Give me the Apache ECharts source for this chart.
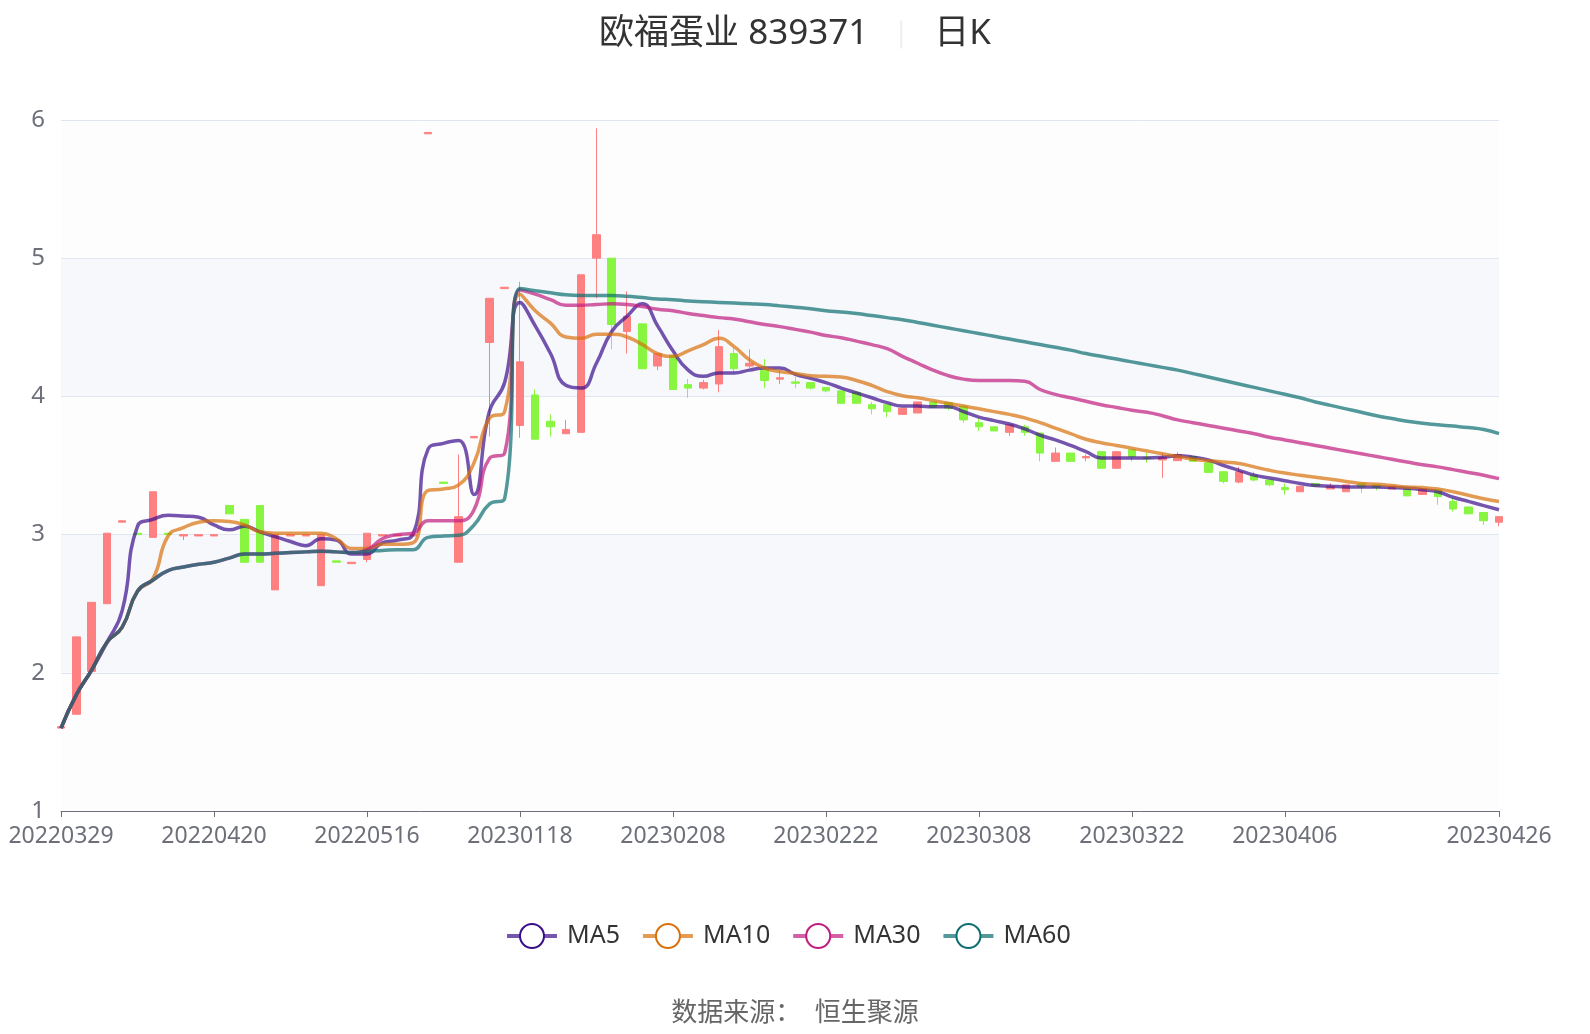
<!DOCTYPE html>
<html>
<head>
<meta charset="utf-8">
<script src="https://cdn.jsdelivr.net/npm/echarts@6/dist/echarts.min.js"></script>
<style>
  html, body { margin: 0; padding: 0; background: #fff; }
  #kline { width: 1590px; height: 1034px; }
</style>
</head>
<body>
<div id="kline"></div>
<script>
// 日期
var dates = [
  '20220329', '20220330', '20220331', '20220401', '20220406', '20220408', '20220411', '20220413', '20220415', '20220418',
  '20220420', '20220421', '20220422', '20220425', '20220427', '20220429', '20220505', '20220506', '20220510', '20220512',
  '20220516', '20220518', '20220520', '20220525', '20220531', '20220608', '20220617', '20220705', '20230116', '20230117',
  '20230118', '20230119', '20230120', '20230130', '20230131', '20230201', '20230202', '20230203', '20230206', '20230207',
  '20230208', '20230209', '20230210', '20230213', '20230214', '20230215', '20230216', '20230217', '20230220', '20230221',
  '20230222', '20230223', '20230224', '20230227', '20230228', '20230301', '20230302', '20230303', '20230306', '20230307',
  '20230308', '20230309', '20230310', '20230313', '20230314', '20230315', '20230316', '20230317', '20230320', '20230321',
  '20230322', '20230323', '20230324', '20230327', '20230328', '20230329', '20230330', '20230331', '20230403', '20230404',
  '20230406', '20230407', '20230410', '20230411', '20230412', '20230413', '20230414', '20230417', '20230418', '20230419',
  '20230420', '20230421', '20230424', '20230425', '20230426'
];
// 开盘 收盘 最低 最高
var opens = [
  1.60, 1.70, 2.01, 2.50, 3.09, 3.01, 2.98, 3.01, 2.99, 2.99,
  2.99, 3.21, 3.11, 3.21, 2.60, 2.99, 2.99, 2.63, 2.81, 2.79,
  2.82, 2.99, 2.99, 2.99, 5.90, 3.38, 2.80, 3.70, 4.39, 4.78,
  3.79, 4.01, 3.82, 3.73, 3.74, 5.00, 5.00, 4.47, 4.525, 4.22,
  4.295, 4.085, 4.06, 4.09, 4.31, 4.22, 4.19, 4.125, 4.105, 4.10,
  4.065, 4.04, 4.03, 3.94, 3.94, 3.87, 3.88, 3.96, 3.955, 3.93,
  3.81, 3.78, 3.74, 3.78, 3.735, 3.53, 3.59, 3.555, 3.60, 3.48,
  3.615, 3.56, 3.54, 3.535, 3.565, 3.52, 3.455, 3.38, 3.43, 3.395,
  3.34, 3.31, 3.37, 3.33, 3.31, 3.37, 3.36, 3.33, 3.33, 3.29,
  3.325, 3.24, 3.20, 3.16, 3.09
];
var closes = [
  1.61, 2.26, 2.51, 3.01, 3.10, 3.00, 3.31, 3.00, 3.00, 3.00,
  3.00, 3.15, 2.80, 2.80, 3.00, 3.00, 3.00, 3.00, 2.80, 2.80,
  3.01, 3.00, 3.00, 3.00, 5.91, 3.37, 3.13, 3.71, 4.71, 4.79,
  4.25, 3.69, 3.78, 3.76, 4.88, 5.17, 4.52, 4.58, 4.20, 4.31,
  4.05, 4.06, 4.10, 4.36, 4.20, 4.24, 4.115, 4.135, 4.095, 4.06,
  4.04, 3.95, 3.95, 3.91, 3.89, 3.915, 3.96, 3.92, 3.915, 3.83,
  3.78, 3.75, 3.795, 3.74, 3.59, 3.59, 3.53, 3.565, 3.48, 3.60,
  3.565, 3.55, 3.56, 3.58, 3.53, 3.45, 3.385, 3.455, 3.395, 3.36,
  3.325, 3.35, 3.35, 3.35, 3.36, 3.345, 3.34, 3.35, 3.28, 3.33,
  3.275, 3.185, 3.15, 3.10, 3.13
];
var lows = [
  1.60, 1.70, 2.01, 2.50, 3.09, 3.00, 2.98, 3.00, 2.96, 2.99,
  2.99, 3.15, 2.80, 2.80, 2.60, 2.99, 2.99, 2.63, 2.80, 2.79,
  2.80, 2.99, 2.99, 2.99, 5.90, 3.37, 2.80, 3.70, 3.71, 4.78,
  3.70, 3.69, 3.71, 3.73, 3.74, 4.71, 4.34, 4.31, 4.20, 4.19,
  4.05, 3.99, 4.05, 4.03, 4.17, 4.205, 4.06, 4.09, 4.06, 4.05,
  4.03, 3.95, 3.95, 3.87, 3.85, 3.87, 3.88, 3.92, 3.90, 3.81,
  3.75, 3.75, 3.715, 3.715, 3.53, 3.53, 3.53, 3.53, 3.48, 3.48,
  3.53, 3.52, 3.41, 3.535, 3.53, 3.45, 3.37, 3.37, 3.385, 3.35,
  3.29, 3.31, 3.345, 3.33, 3.31, 3.30, 3.32, 3.33, 3.28, 3.29,
  3.215, 3.167, 3.15, 3.07, 3.06
];
var highs = [
  1.61, 2.26, 2.51, 3.01, 3.10, 3.01, 3.31, 3.01, 3.00, 3.00,
  3.00, 3.21, 3.11, 3.21, 3.00, 3.00, 3.00, 3.00, 2.81, 2.80,
  3.01, 3.00, 3.00, 3.00, 5.91, 3.38, 3.58, 3.71, 4.71, 4.79,
  4.83, 4.05, 3.87, 3.83, 4.88, 5.94, 5.00, 4.76, 4.525, 4.31,
  4.295, 4.126, 4.12, 4.48, 4.35, 4.34, 4.27, 4.19, 4.14, 4.10,
  4.065, 4.04, 4.035, 3.96, 3.94, 3.915, 3.96, 3.96, 3.955, 3.93,
  3.84, 3.78, 3.795, 3.795, 3.735, 3.63, 3.59, 3.58, 3.60, 3.60,
  3.615, 3.59, 3.59, 3.595, 3.565, 3.52, 3.455, 3.49, 3.455, 3.395,
  3.37, 3.35, 3.37, 3.37, 3.36, 3.37, 3.36, 3.35, 3.33, 3.33,
  3.325, 3.265, 3.20, 3.16, 3.13
];
// 均线
var ma5 = [
  1.60, 1.84, 2.02, 2.22, 2.45, 3.06, 3.11, 3.14, 3.135, 3.125,
  3.07, 3.035, 3.06, 3.02, 2.985, 2.95, 2.92, 2.97, 2.96, 2.86,
  2.86, 2.94, 2.96, 3.00, 3.62, 3.66, 3.68, 3.29, 3.89, 4.10,
  4.68, 4.51, 4.31, 4.08, 4.06, 4.24, 4.47, 4.58, 4.67, 4.51,
  4.33, 4.19, 4.145, 4.17, 4.17, 4.19, 4.205, 4.205, 4.16, 4.13,
  4.10, 4.06, 4.025, 3.99, 3.955, 3.93, 3.93, 3.925, 3.925, 3.89,
  3.85, 3.825, 3.80, 3.765, 3.72, 3.685, 3.645, 3.60, 3.555, 3.555,
  3.555, 3.555, 3.56, 3.57, 3.56, 3.54, 3.50, 3.465, 3.43, 3.41,
  3.39, 3.37, 3.355, 3.35, 3.345, 3.345, 3.345, 3.34, 3.335, 3.325,
  3.31, 3.27, 3.24, 3.21, 3.18
];
var ma10 = [
  1.60, 1.84, 2.02, 2.22, 2.33, 2.59, 2.68, 2.99, 3.05, 3.09,
  3.10, 3.095, 3.07, 3.02, 3.01, 3.01, 3.01, 3.01, 2.97, 2.90,
  2.90, 2.93, 2.93, 2.94, 3.32, 3.33, 3.36, 3.52, 3.84, 3.89,
  4.74, 4.62, 4.53, 4.43, 4.42, 4.45, 4.45, 4.43, 4.375, 4.31,
  4.29, 4.33, 4.375, 4.42, 4.36, 4.265, 4.205, 4.18, 4.165, 4.15,
  4.145, 4.14, 4.115, 4.08, 4.035, 4.005, 3.99, 3.97, 3.95, 3.93,
  3.91, 3.89, 3.87, 3.845, 3.81, 3.77, 3.73, 3.69, 3.665, 3.645,
  3.625, 3.605, 3.585, 3.565, 3.545, 3.535, 3.525, 3.515, 3.49, 3.465,
  3.445, 3.43, 3.415, 3.40, 3.385, 3.37, 3.365, 3.355, 3.345, 3.34,
  3.33, 3.31, 3.285, 3.26, 3.24
];
var ma30 = [
  1.60, 1.84, 2.02, 2.22, 2.33, 2.59, 2.67, 2.74, 2.765, 2.785,
  2.80, 2.83, 2.86, 2.86, 2.865, 2.87, 2.875, 2.88, 2.875, 2.87,
  2.89, 2.97, 3.00, 3.01, 3.10, 3.10, 3.10, 3.18, 3.55, 3.59,
  4.77, 4.74, 4.70, 4.66, 4.66, 4.665, 4.67, 4.665, 4.65, 4.63,
  4.62, 4.60, 4.585, 4.57, 4.56, 4.54, 4.52, 4.505, 4.485, 4.465,
  4.44, 4.425, 4.40, 4.375, 4.345, 4.29, 4.24, 4.19, 4.15, 4.125,
  4.115, 4.115, 4.115, 4.11, 4.05, 4.015, 3.99, 3.965, 3.94, 3.92,
  3.90, 3.885, 3.86, 3.83, 3.81, 3.79, 3.77, 3.75, 3.73, 3.705,
  3.685, 3.665, 3.645, 3.625, 3.605, 3.585, 3.565, 3.545, 3.525, 3.505,
  3.49, 3.47, 3.45, 3.43, 3.405
];
var ma60 = [
  1.60, 1.84, 2.02, 2.22, 2.33, 2.59, 2.67, 2.74, 2.765, 2.785,
  2.80, 2.83, 2.86, 2.86, 2.865, 2.87, 2.875, 2.88, 2.875, 2.87,
  2.88, 2.885, 2.89, 2.89, 2.98, 2.99, 2.995, 3.07, 3.22, 3.26,
  4.78, 4.765, 4.75, 4.735, 4.73, 4.73, 4.73, 4.725, 4.715, 4.705,
  4.70, 4.69, 4.685, 4.68, 4.675, 4.67, 4.665, 4.655, 4.645, 4.635,
  4.62, 4.61, 4.60, 4.585, 4.57, 4.555, 4.535, 4.515, 4.495, 4.475,
  4.455, 4.435, 4.415, 4.395, 4.375, 4.355, 4.335, 4.31, 4.29, 4.27,
  4.25, 4.23, 4.21, 4.19, 4.165, 4.14, 4.115, 4.09, 4.065, 4.04,
  4.015, 3.99, 3.96, 3.935, 3.91, 3.885, 3.86, 3.84, 3.82, 3.805,
  3.795, 3.785, 3.775, 3.76, 3.73
];
var labelIndex = [0, 10, 20, 30, 40, 50, 60, 70, 80, 94];

var kData = opens.map(function (o, i) {
  return [o, closes[i], lows[i], highs[i]];
});

var fontCn = '"Noto Sans", "Noto Sans CJK SC", sans-serif';
var kline = echarts.init(document.getElementById('kline'));

function maSeries(name, data, color) {
  return {
    name: name,
    type: 'line',
    data: data,
    smooth: true,
    showSymbol: false,
    symbol: 'emptyCircle',
    symbolSize: 10,
    itemStyle: { color: color, borderWidth: 4 },
    lineStyle: { width: 3.5, opacity: 0.7, color: color },
    z: 3
  };
}

var option = {
  animation: false,
  textStyle: { fontFamily: fontCn },
  title: [
    {
      left: 'center',
      top: 12,
      text: '{a|欧福蛋业 839371}{g| }{s| }{g| }{b|日K}',
      textStyle: {
        fontWeight: 'normal',
        rich: {
          a: { fontSize: 35, color: '#333', fontWeight: 'normal', fontFamily: fontCn },
          b: { fontSize: 35, color: '#333', fontWeight: 'normal', fontFamily: fontCn },
          g: { width: 32 },
          s: { width: 2, height: 28, backgroundColor: '#eeeeee' }
        }
      }
    },
    {
      left: 'center',
      bottom: 2,
      text: '数据来源：  恒生聚源',
      textStyle: { fontSize: 26, color: '#666', fontWeight: 'normal', fontFamily: fontCn }
    }
  ],
  legend: {
    bottom: 80,
    left: 500,
    data: ['MA5', 'MA10', 'MA30', 'MA60'],
    itemWidth: 50,
    itemHeight: 30,
    itemGap: 21,
    itemStyle: { borderWidth: 4 },
    lineStyle: { width: 4 },
    textStyle: { fontSize: 25, color: '#333', padding: [0, 0, 0, 5] }
  },
  grid: {
    left: 61,
    right: 91,
    top: 120,
    bottom: 223
  },
  xAxis: {
    type: 'category',
    data: dates,
    boundaryGap: false,
    axisLine: { lineStyle: { color: '#6E7079' } },
    axisTick: {
      interval: function (i) { return labelIndex.indexOf(i) >= 0; },
      length: 6
    },
    axisLabel: {
      interval: function (i) { return labelIndex.indexOf(i) >= 0; },
      fontSize: 23,
      color: '#6E7079',
      margin: 14
    },
    splitLine: { show: false }
  },
  yAxis: {
    type: 'value',
    min: 1,
    max: 6,
    interval: 1,
    axisLabel: { fontSize: 24, color: '#6E7079', margin: 16 },
    splitLine: { lineStyle: { color: '#E0E6F1' } },
    splitArea: {
      show: true,
      areaStyle: { color: ['rgba(250,250,250,0.3)', 'rgba(210,219,238,0.2)'] }
    }
  },
  series: [
    {
      name: '日K',
      type: 'candlestick',
      data: kData,
      barWidth: 8,
      itemStyle: {
        color: '#ff8080',
        color0: '#88f540',
        borderColor: '#ff8080',
        borderColor0: '#88f540',
        borderWidth: 1
      },
      z: 2
    },
    maSeries('MA5', ma5, '#3a0d8c'),
    maSeries('MA10', ma10, '#d9700b'),
    maSeries('MA30', ma30, '#c11c7f'),
    maSeries('MA60', ma60, '#0b6e71')
  ]
};

kline.setOption(option);
</script>
</body>
</html>
